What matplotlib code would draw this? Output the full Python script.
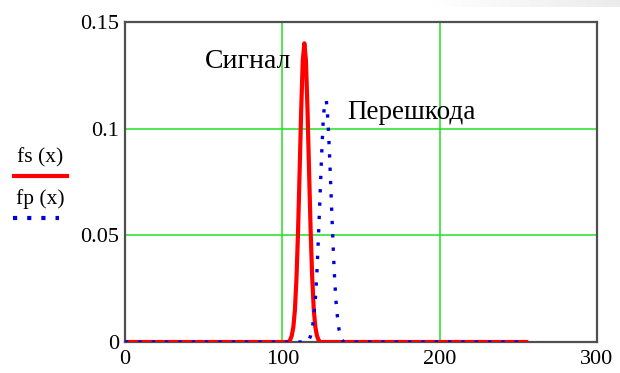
import matplotlib.pyplot as plt
import numpy as np

# fs(x): signal density (zero outside this range)
fs_x = [0, 104, 105, 106, 107, 108, 109, 110, 111, 112, 113, 114, 115, 116,
        117, 118, 119, 120, 121, 122, 123, 124, 255]
fs_y = [0, 0, 0.001, 0.003, 0.007, 0.015, 0.030, 0.052, 0.080, 0.109, 0.132,
        0.140, 0.132, 0.109, 0.080, 0.052, 0.030, 0.015, 0.007, 0.003, 0.001,
        0, 0]

# fp(x): noise density
fp_x = [0, 116, 117, 118, 119, 120, 121, 122, 123, 124, 125, 126, 127, 128,
        129, 130, 131, 132, 133, 134, 135, 136, 137, 138, 139, 255]
fp_y = [0, 0, 0.001, 0.003, 0.006, 0.012, 0.020, 0.033, 0.050, 0.069, 0.088,
        0.104, 0.113, 0.113, 0.104, 0.088, 0.069, 0.050, 0.033, 0.020, 0.012,
        0.006, 0.003, 0.001, 0, 0]

x_ticks = [0, 100, 200, 300]
y_ticks = [0, 0.05, 0.1, 0.15]
y_labels = ["0", "0.05", "0.1", "0.15"]

plt.rcParams['font.family'] = ['Liberation Serif', 'DejaVu Serif']

fig = plt.figure(figsize=(6.2, 3.73), dpi=100)

# faint grey shadow strip along the top right of the screenshot
shade = fig.add_axes([0.68, 1 - 7 / 373, 0.32, 7 / 373])
shade.imshow(np.linspace(1.0, 0.92, 64)[None, :], cmap='gray', vmin=0, vmax=1,
             aspect='auto', interpolation='bilinear')
shade.axis('off')

ax = fig.add_axes([0.2016, 0.0831, 0.7613, 0.858])

for v in [100, 200]:
    ax.axvline(v, color='#22e022', lw=1.1, zorder=1)
for v in [0.05, 0.1]:
    ax.axhline(v, color='#22e022', lw=1.1, zorder=1)

ax.plot(fs_x, fs_y, color='#ff0000', lw=3.0, zorder=3)
ax.plot(fp_x, fp_y, color='#0000dd', lw=2.4, linestyle=(0, (1.0, 3.0)), zorder=4)

ax.set_xlim(0, 300)
ax.set_ylim(0, 0.15)
ax.set_xticks(x_ticks)
ax.set_xticklabels([str(t) for t in x_ticks])
ax.set_yticks(y_ticks)
ax.set_yticklabels(y_labels)
ax.tick_params(length=0, labelsize=16)
ax.tick_params(axis='x', pad=6)
ax.tick_params(axis='y', pad=4)
for s in ax.spines.values():
    s.set_color('#505050')
    s.set_linewidth(1.6)

ax.text(106, 0.1313, "Сигнал", fontsize=20, ha='right', va='center')
ax.text(141, 0.1075, "Перешкода", fontsize=19.5, ha='left', va='center')

fig.text(0.0645, 0.577, "fs (x)", fontsize=15.5, ha='center', va='center')
fig.add_artist(plt.Line2D([0.023, 0.108], [0.528, 0.528], color='#ff0000', lw=3.0))
fig.text(0.0645, 0.467, "fp (x)", fontsize=15.5, ha='center', va='center')
fig.add_artist(plt.Line2D([0.021, 0.095], [0.415, 0.415], color='#0000dd', lw=3.0,
                          linestyle=(0, (1.0, 2.4))))

fig.savefig("out.png", dpi=100)
